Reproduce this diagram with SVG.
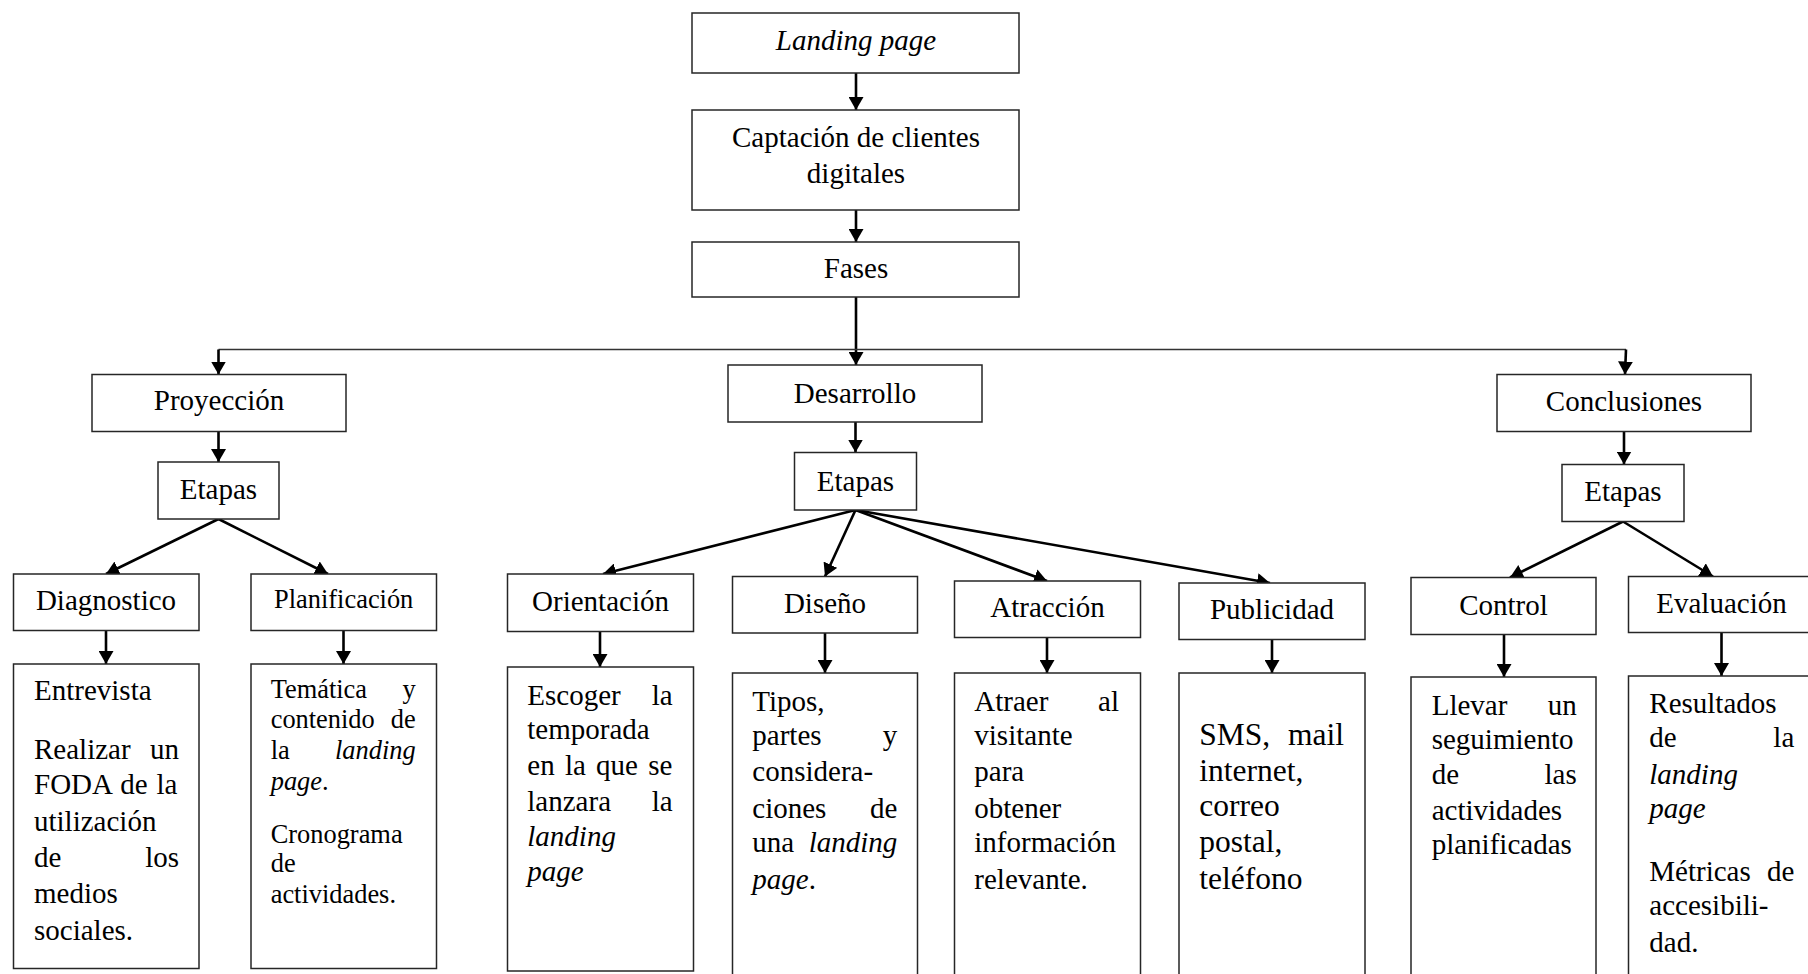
<svg xmlns="http://www.w3.org/2000/svg" width="1808" height="974" viewBox="0 0 1808 974">
<style>
.box{fill:#fff;stroke:#262626;stroke-width:1.5}
text{font-family:"Liberation Serif","Times New Roman",serif;font-size:29px;fill:#000}
.c{text-anchor:middle}
.e{text-anchor:end}
.i{font-style:italic}
.s{font-size:26.4px}
.b{font-size:31.5px}
.arr{stroke:#000;stroke-width:2.6;fill:none;marker-end:url(#ah)}
.hl{stroke:#333;stroke-width:1.5;fill:none}
</style>
<defs>
<marker id="ah" markerUnits="userSpaceOnUse" markerWidth="14" markerHeight="15" refX="13" refY="7.5" orient="auto">
<path d="M0,0 L13,7.5 L0,15 z" fill="#000"/>
</marker>
</defs>
<rect width="1808" height="974" fill="#fff"/>
<g id="connectors">
<line class="arr" x1="856" y1="73" x2="856" y2="110"/>
<line class="arr" x1="856" y1="210" x2="856" y2="242"/>
<line class="arr" x1="856" y1="297" x2="856" y2="365"/>
<line class="hl" x1="218.5" y1="349.5" x2="1626" y2="349.5"/>
<line class="arr" x1="218.5" y1="349.5" x2="218.5" y2="374.5"/>
<line class="arr" x1="1626" y1="349.5" x2="1625" y2="374.5"/>
<line class="arr" x1="218.5" y1="431.5" x2="218.5" y2="462"/>
<line class="arr" x1="855.5" y1="422" x2="855.5" y2="452.5"/>
<line class="arr" x1="1624" y1="431.5" x2="1624" y2="464.5"/>
<line class="arr" x1="218.5" y1="519" x2="106" y2="574"/>
<line class="arr" x1="218.5" y1="519" x2="328" y2="574"/>
<line class="arr" x1="855.5" y1="510" x2="603" y2="574"/>
<line class="arr" x1="855.5" y1="510" x2="825" y2="576.5"/>
<line class="arr" x1="855.5" y1="510" x2="1047" y2="581"/>
<line class="arr" x1="855.5" y1="510" x2="1270" y2="583"/>
<line class="arr" x1="1623" y1="521.5" x2="1510" y2="577.5"/>
<line class="arr" x1="1623" y1="521.5" x2="1713" y2="576.5"/>
<line class="arr" x1="106" y1="630.5" x2="106" y2="664"/>
<line class="arr" x1="343.5" y1="630.5" x2="343.5" y2="664"/>
<line class="arr" x1="600" y1="631.5" x2="600" y2="667"/>
<line class="arr" x1="825" y1="633" x2="825" y2="673"/>
<line class="arr" x1="1047" y1="637.5" x2="1047" y2="673"/>
<line class="arr" x1="1272" y1="639.5" x2="1272" y2="673"/>
<line class="arr" x1="1504" y1="634.5" x2="1504" y2="677"/>
<line class="arr" x1="1721.5" y1="632.5" x2="1721.5" y2="676"/>
</g>
<g id="landing"><rect class="box" x="692" y="13" width="327" height="60"/><text class="c i" x="856" y="50">Landing page</text></g>
<g id="captacion"><rect class="box" x="692" y="110" width="327" height="100"/><text class="c" x="856" y="146.5">Captación de clientes</text><text class="c" x="856" y="183">digitales</text></g>
<g id="fases"><rect class="box" x="692" y="242" width="327" height="55"/><text class="c" x="856" y="278">Fases</text></g>
<g id="proyeccion"><rect class="box" x="92" y="374.5" width="254" height="57"/><text class="c" x="219" y="410">Proyección</text></g>
<g id="desarrollo"><rect class="box" x="728" y="365" width="254" height="57"/><text class="c" x="855" y="402.5">Desarrollo</text></g>
<g id="conclusiones"><rect class="box" x="1497" y="374.5" width="254" height="57"/><text class="c" x="1624" y="411">Conclusiones</text></g>
<g id="etapas1"><rect class="box" x="158" y="462" width="121" height="57"/><text class="c" x="218.5" y="498.5">Etapas</text></g>
<g id="etapas2"><rect class="box" x="794.5" y="452.5" width="122" height="57.5"/><text class="c" x="855.5" y="490.5">Etapas</text></g>
<g id="etapas3"><rect class="box" x="1562" y="464.5" width="122" height="57"/><text class="c" x="1623" y="501">Etapas</text></g>
<g id="diagnostico"><rect class="box" x="13.5" y="574" width="185.5" height="56.5"/><text class="c" x="106" y="610">Diagnostico</text></g>
<g id="planificacion"><rect class="box" x="251" y="574" width="185.5" height="56.5"/><text class="c s" x="343.7" y="607.5">Planificación</text></g>
<g id="orientacion"><rect class="box" x="507.5" y="574" width="186" height="57.5"/><text class="c" x="600.5" y="610.5">Orientación</text></g>
<g id="diseno"><rect class="box" x="732.5" y="576.5" width="185" height="56.5"/><text class="c" x="825" y="613">Diseño</text></g>
<g id="atraccion"><rect class="box" x="954.5" y="581" width="186" height="56.5"/><text class="c" x="1047.5" y="617">Atracción</text></g>
<g id="publicidad"><rect class="box" x="1179" y="583" width="186" height="56.5"/><text class="c" x="1272" y="619">Publicidad</text></g>
<g id="control"><rect class="box" x="1411" y="577.5" width="185" height="57"/><text class="c" x="1503.5" y="614.5">Control</text></g>
<g id="evaluacion"><rect class="box" x="1628.5" y="576.5" width="190" height="56"/><text class="c" x="1721.5" y="613">Evaluación</text></g>
<g id="diagnostico-detalle"><rect class="box" x="13.5" y="664" width="185.5" height="304.5"/>
<text x="34" y="700">Entrevista</text>
<text x="34" y="758.5">Realizar</text><text class="e" x="179" y="758.5">un</text>
<text x="34" y="793.5" word-spacing="1.6">FODA de la</text>
<text x="34" y="830.5">utilización</text>
<text x="34" y="866.5">de</text><text class="e" x="179" y="866.5">los</text>
<text x="34" y="903">medios</text>
<text x="34" y="940">sociales.</text>
</g>
<g id="planificacion-detalle"><rect class="box" x="251" y="664" width="185.5" height="304.5"/>
<text class="s" x="270.7" y="697.5">Temática</text><text class="s e" x="415.7" y="697.5">y</text>
<text class="s" x="270.7" y="727.5">contenido</text><text class="s e" x="415.7" y="727.5">de</text>
<text class="s" x="270.7" y="759">la</text><text class="s e i" x="415.7" y="759">landing</text>
<text class="s" x="270.7" y="790"><tspan class="i">page</tspan>.</text>
<text class="s" x="270.7" y="842.5">Cronograma</text>
<text class="s" x="270.7" y="871.5">de</text>
<text class="s" x="270.7" y="902.5">actividades.</text>
</g>
<g id="orientacion-detalle"><rect class="box" x="507.5" y="667" width="186" height="304"/>
<text x="527.3" y="704.5">Escoger</text><text class="e" x="672.7" y="704.5">la</text>
<text x="527.3" y="739">temporada</text>
<text x="527.3" y="775" word-spacing="3">en la que se</text>
<text x="527.3" y="810.5">lanzara</text><text class="e" x="672.7" y="810.5">la</text>
<text class="i" x="527.3" y="846">landing</text>
<text class="i" x="527.3" y="880.5">page</text>
</g>
<g id="diseno-detalle"><rect class="box" x="732.5" y="673" width="185" height="320"/>
<text x="752.3" y="710.5">Tipos,</text>
<text x="752.3" y="745">partes</text><text class="e" x="897.3" y="745">y</text>
<text x="752.3" y="781">considera-</text>
<text x="752.3" y="817.5">ciones</text><text class="e" x="897.3" y="817.5">de</text>
<text x="752.3" y="852">una</text><text class="e i" x="897.3" y="852">landing</text>
<text x="752.3" y="888.5"><tspan class="i">page</tspan>.</text>
</g>
<g id="atraccion-detalle"><rect class="box" x="954.5" y="673" width="186" height="320"/>
<text x="974.3" y="710.5">Atraer</text><text class="e" x="1119" y="710.5">al</text>
<text x="974.3" y="745">visitante</text>
<text x="974.3" y="781">para</text>
<text x="974.3" y="817.5">obtener</text>
<text x="974.3" y="852">información</text>
<text x="974.3" y="888.5">relevante.</text>
</g>
<g id="publicidad-detalle"><rect class="box" x="1179" y="673" width="186" height="320"/>
<text class="b" x="1199.3" y="745">SMS,</text><text class="b e" x="1344" y="745">mail</text>
<text class="b" x="1199.3" y="781">internet,</text>
<text class="b" x="1199.3" y="816">correo</text>
<text class="b" x="1199.3" y="852">postal,</text>
<text class="b" x="1199.3" y="888.5">teléfono</text>
</g>
<g id="control-detalle"><rect class="box" x="1411" y="677" width="185" height="320"/>
<text x="1431.7" y="714.5">Llevar</text><text class="e" x="1576.7" y="714.5">un</text>
<text x="1431.7" y="749">seguimiento</text>
<text x="1431.7" y="783.5">de</text><text class="e" x="1576.7" y="783.5">las</text>
<text x="1431.7" y="820">actividades</text>
<text x="1431.7" y="854">planificadas</text>
</g>
<g id="evaluacion-detalle"><rect class="box" x="1628.5" y="676" width="190" height="320"/>
<text x="1649.3" y="712.5">Resultados</text>
<text x="1649.3" y="747">de</text><text class="e" x="1794.3" y="747">la</text>
<text class="i" x="1649.3" y="783.5">landing</text>
<text class="i" x="1649.3" y="818">page</text>
<text x="1649.3" y="880.5">Métricas</text><text class="e" x="1794.3" y="880.5">de</text>
<text x="1649.3" y="915">accesibili-</text>
<text x="1649.3" y="951.5">dad.</text>
</g>
</svg>
